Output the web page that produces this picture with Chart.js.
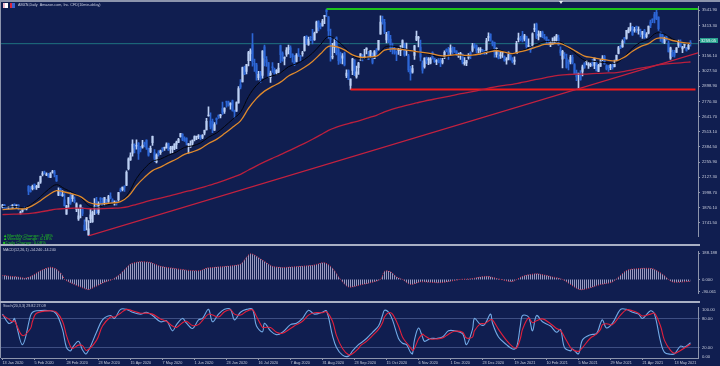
<!DOCTYPE html>
<html>
<head>
<meta charset="utf-8">
<script src="https://cdn.jsdelivr.net/npm/chart.js@4.4.1/dist/chart.umd.min.js"></script>
<style>
  body { margin: 0; background: #101e50; }
  #wrap { position: relative; width: 720px; height: 366px; background: #101e50; overflow: hidden; }
  canvas { position: absolute; left: 0; }
  .bar { position: absolute; background: #8c94ac; }
  .s { position: absolute; transform: scale(0.5); transform-origin: 0 0; white-space: nowrap;
       font-family: 'Liberation Sans', 'DejaVu Sans', sans-serif; color: #c9cde0; line-height: 1; }
  .g { color: #22c322; }
</style>
</head>
<body>
<div id="wrap">
  <canvas id="main" style="top:2px" width="720" height="242"></canvas>
  <canvas id="macd" style="top:247px" width="720" height="54"></canvas>
  <canvas id="stoch" style="top:303px" width="720" height="63"></canvas>

  <div class="bar" style="left:0;top:0;width:720px;height:2px"></div>
  <div class="bar" style="left:0;top:0;width:1px;height:358px"></div>
  <div class="bar" style="left:0;top:244px;width:700px;height:2px;background:#a9b0c4"></div>
  <div class="bar" style="left:0;top:301px;width:700px;height:2px;background:#a9b0c4"></div>
  <div style="position:absolute;left:559px;top:1px;width:0;height:0;border-left:2px solid transparent;border-right:2px solid transparent;border-top:3px solid #e8ecf4"></div>

  <div style="position:absolute;left:3px;top:3px;width:5px;height:5px;background:linear-gradient(90deg,#f2b8cc 50%,#ffffff 50%)"></div>
  <div style="position:absolute;left:10px;top:3px;width:5px;height:5px;background:linear-gradient(90deg,#d8283c 50%,#3a5fd0 50%)"></div>
  <div class="s" style="left:18px;top:3px;font-size:7.4px">AMZN,Daily&nbsp;&nbsp;Amazon.com, Inc. CFD(10min-delay)</div>

  <div class="s g" style="left:3px;top:232.6px;font-size:8.6px">&#9650;Monthly Change: 1.48%</div>
  <div class="s g" style="left:3px;top:236.4px;font-size:8.6px">&#9650;Weekly Change: 0.18%</div>
  <div class="s g" style="left:3px;top:240.2px;font-size:8.6px">&#9632;Daily Change: 0.08%</div>

  <div class="s" style="left:3px;top:248px;font-size:7.4px">MACD(12,26,1) -14.240 -14.240</div>
  <div class="s" style="left:3px;top:304px;font-size:7.4px">Stoch(20,3,3) 29.82 27.09</div>

  <div style="position:absolute;left:700px;top:37.5px;width:18px;height:5.5px;background:#27a08e"></div>
  <div class="s" style="left:701px;top:38px;font-size:8.4px;color:#eafff9">3259.05</div>
</div>

<script>
// x axis labels, one every 16 trading days starting 13 Jan 2020
const dateLabels = ['13 Jan 2020', '5 Feb 2020', '28 Feb 2020', '23 Mar 2020', '15 Apr 2020', '7 May 2020',
  '1 Jun 2020', '23 Jun 2020', '16 Jul 2020', '7 Aug 2020', '31 Aug 2020', '23 Sep 2020', '15 Oct 2020',
  '6 Nov 2020', '1 Dec 2020', '23 Dec 2020', '19 Jan 2021', '10 Feb 2021', '5 Mar 2021', '29 Mar 2021',
  '21 Apr 2021', '13 May 2021'];

const priceTicks = [1741.5, 1870.1, 1998.7, 2127.3, 2255.9, 2384.5, 2513.1, 2641.7, 2770.3, 2898.9,
  3027.5, 3156.1, 3284.7, 3413.3, 3541.9];
const macdTicks = [188.188, 0, -90.061];
const stochTicks = [100, 80, 20, 0];

// daily candles, 13 Jan 2020 .. 25 May 2021
const opens = [
  1875,1890,1870,1865,1875,1865,1896,1885,1891,1820,1840,1865,1859,2051,2010,2030,
  2070,2041,2040,2085,2150,2162,2145,2155,2125,2167,2173,2143,1975,2027,1970,1936,
  1815,1906,1963,1946,1934,1855,1773,1870,1857,1722,1755,1641,1775,1750,1860,1926,
  1827,1951,1921,1902,1930,1922,1964,1933,1901,1912,1937,2018,2022,2045,2060,2200,
  2274,2331,2404,2390,2417,2370,2381,2417,2443,2372,2341,2420,2337,2256,2341,2336,
  2374,2373,2376,2412,2367,2363,2373,2405,2423,2470,2490,2455,2459,2404,2384,2416,
  2448,2468,2468,2477,2465,2500,2529,2646,2603,2600,2526,2623,2647,2647,2710,2684,
  2765,2765,2740,2775,2690,2686,2757,2912,2935,3058,3023,3115,3175,3251,3089,3080,
  2971,3009,2989,3232,3125,3098,2970,3063,3043,3014,3014,3244,3180,3135,3168,3209,
  3224,3170,3114,3108,3172,3151,3173,3200,3323,3252,3295,3310,3294,3352,3450,3410,
  3409,3490,3547,3486,3318,3144,3226,3308,3208,3172,3136,3179,2985,3031,2906,3033,
  3120,2977,3055,3149,3163,3141,3208,3153,3145,3166,3135,3205,3210,3339,3468,3441,
  3292,3363,3299,3222,3212,3189,3202,3199,3225,3250,3201,3157,3042,3018,3160,3290,
  3305,3231,3095,3062,3143,3122,3094,3184,3134,3106,3117,3117,3101,3142,3211,3209,
  3188,3229,3205,3198,3156,3158,3167,3089,3097,3143,3181,3203,3250,3243,3206,3202,
  3205,3193,3194,3309,3341,3275,3270,3167,3146,3156,3181,3148,3120,3128,3167,3124,
  3108,3175,3293,3304,3329,3297,3320,3235,3230,3243,3380,3425,3330,3320,3358,3315,
  3314,3292,3250,3254,3263,3282,3308,3208,3128,3166,3138,3095,3104,3144,3082,3013,
  2994,2992,3023,3093,3109,3075,3075,3105,3074,3097,3023,3067,3128,3152,3072,3073,
  3055,3088,3065,3118,3177,3227,3233,3310,3304,3355,3380,3405,3371,3402,3371,3345,
  3337,3371,3319,3349,3442,3460,3505,3525,3484,3357,3338,3270,3319,3265,3136,3185,
  3185,3186,3245,3273,3215,3247,3222,3216,3269];
const highs = [
  1898,1898,1878,1880,1886,1895,1902,1890,1895,1841,1858,1875,1872,2056,2048,2060,
  2070,2058,2086,2136,2175,2180,2164,2160,2166,2185,2185,2144,2038,2034,2013,1988,
  1889,1955,1997,1978,1960,1910,1862,1893,1871,1765,1786,1759,1858,1841,1946,1957,
  1919,1955,1950,1956,1940,1973,1994,1945,1928,1928,2000,2036,2044,2054,2181,2292,
  2333,2444,2410,2445,2421,2390,2440,2425,2444,2374,2391,2475,2362,2325,2352,2357,
  2376,2383,2419,2417,2390,2392,2410,2433,2456,2500,2497,2469,2462,2413,2436,2442,
  2477,2474,2488,2484,2488,2526,2627,2723,2672,2621,2590,2630,2656,2660,2765,2715,
  2768,2772,2757,2782,2696,2767,2895,2955,3060,3069,3084,3194,3216,3344,3128,3093,
  3025,3024,3201,3248,3150,3099,3026,3098,3052,3039,3093,3247,3191,3147,3225,3247,
  3240,3172,3159,3175,3217,3158,3194,3321,3326,3314,3322,3380,3357,3451,3452,3433,
  3465,3500,3552,3489,3382,3261,3300,3317,3229,3188,3175,3188,3037,3037,2962,3134,
  3124,3069,3101,3175,3167,3212,3224,3195,3202,3182,3201,3218,3288,3496,3492,3465,
  3355,3363,3329,3265,3233,3199,3223,3244,3292,3265,3265,3168,3067,3076,3245,3366,
  3322,3289,3114,3140,3145,3142,3142,3190,3137,3125,3133,3139,3134,3198,3216,3228,
  3249,3233,3229,3198,3180,3185,3174,3142,3119,3175,3189,3263,3263,3250,3227,3225,
  3211,3202,3304,3350,3342,3283,3273,3224,3198,3190,3190,3156,3142,3190,3178,3142,
  3148,3279,3349,3321,3364,3338,3324,3301,3236,3350,3427,3434,3367,3364,3366,3338,
  3317,3292,3280,3308,3320,3338,3333,3233,3202,3184,3171,3123,3161,3162,3091,3035,
  3010,3031,3078,3099,3117,3099,3094,3127,3138,3109,3083,3126,3159,3161,3080,3074,
  3084,3092,3120,3162,3236,3247,3292,3310,3372,3395,3433,3405,3398,3406,3401,3382,
  3363,3381,3354,3409,3460,3470,3525,3554,3486,3358,3343,3315,3330,3284,3231,3205,
  3203,3227,3290,3291,3237,3256,3228,3258,3285];
const lows = [
  1866,1865,1855,1858,1863,1860,1883,1872,1850,1815,1830,1850,1850,1980,2000,2020,
  2025,2024,2039,2075,2139,2152,2141,2125,2124,2162,2130,2092,1970,1970,1965,1883,
  1811,1872,1897,1922,1910,1835,1761,1782,1801,1675,1680,1626,1741,1745,1810,1820,
  1812,1900,1885,1889,1899,1913,1944,1906,1890,1891,1925,2002,2011,2007,2056,2189,
  2270,2305,2333,2366,2278,2342,2374,2385,2363,2306,2335,2396,2259,2248,2306,2320,
  2343,2355,2373,2355,2332,2335,2361,2370,2420,2466,2438,2430,2402,2332,2379,2399,
  2434,2445,2455,2446,2455,2485,2529,2645,2536,2504,2524,2576,2625,2630,2660,2669,
  2722,2730,2703,2688,2630,2685,2754,2876,2935,2996,3002,3070,3115,3068,3024,2950,
  2952,2930,2966,3070,3066,2970,2930,3016,2999,2996,3005,3098,3110,3080,3152,3172,
  3140,3102,3073,3104,3152,3110,3153,3196,3252,3244,3284,3258,3287,3351,3368,3385,
  3407,3428,3487,3303,3111,3130,3183,3163,3083,3092,3087,3071,2970,2953,2871,2997,
  2987,2966,2998,3117,3112,3133,3172,3123,3141,3087,3132,3169,3205,3340,3424,3343,
  3265,3267,3192,3172,3170,3115,3168,3157,3212,3153,3160,3019,2950,3009,3125,3284,
  3232,3112,3010,3052,3089,3082,3087,3128,3100,3081,3097,3065,3087,3133,3190,3126,
  3158,3173,3186,3158,3142,3126,3087,3077,3072,3128,3132,3190,3221,3181,3166,3171,
  3170,3169,3172,3282,3280,3241,3144,3145,3130,3134,3142,3110,3086,3122,3120,3095,
  3084,3175,3275,3283,3275,3282,3218,3234,3185,3231,3361,3301,3291,3317,3311,3297,
  3254,3248,3233,3254,3259,3273,3245,3160,3054,3134,3052,3036,3087,3088,2999,2945,
  2881,2950,2986,3050,3078,3050,3064,3068,3047,3028,3022,3066,3115,3085,3036,3023,
  3038,3042,3063,3115,3173,3217,3228,3264,3298,3350,3366,3330,3357,3355,3339,3316,
  3304,3303,3308,3342,3394,3438,3436,3462,3372,3279,3266,3260,3289,3190,3125,3151,
  3145,3186,3227,3232,3182,3224,3195,3210,3238];
const closes = [
  1891,1869,1862,1878,1865,1892,1888,1885,1862,1828,1853,1858,1871,2009,2004,2050,
  2040,2050,2079,2134,2151,2160,2150,2135,2156,2170,2153,2096,2009,1973,1980,1884,
  1884,1954,1909,1976,1924,1901,1801,1892,1821,1677,1785,1689,1808,1830,1881,1846,
  1903,1940,1886,1955,1900,1964,1950,1908,1919,1907,1998,2012,2043,2043,2169,2283,
  2308,2408,2375,2394,2328,2363,2399,2410,2376,2314,2373,2474,2286,2316,2318,2351,
  2368,2380,2409,2357,2368,2389,2410,2426,2449,2498,2447,2437,2422,2410,2401,2442,
  2471,2472,2478,2461,2483,2524,2601,2647,2558,2545,2573,2615,2641,2654,2675,2714,
  2764,2734,2755,2693,2680,2759,2879,2890,3057,3000,3081,3183,3200,3104,3084,3009,
  3000,2962,3197,3138,3100,2987,3009,3055,3000,3034,3052,3165,3112,3139,3205,3225,
  3167,3148,3081,3162,3161,3148,3182,3312,3260,3297,3285,3307,3346,3442,3400,3402,
  3451,3499,3531,3368,3295,3150,3269,3175,3116,3103,3156,3078,3009,2955,2960,3129,
  3000,3020,3095,3174,3145,3149,3221,3125,3199,3100,3196,3191,3287,3443,3444,3364,
  3339,3273,3207,3217,3185,3176,3204,3207,3286,3163,3211,3036,3004,3048,3241,3322,
  3311,3144,3035,3137,3110,3129,3131,3136,3105,3117,3099,3098,3118,3185,3195,3168,
  3220,3204,3187,3163,3158,3177,3104,3101,3116,3157,3165,3241,3236,3202,3206,3207,
  3185,3173,3284,3322,3286,3257,3187,3219,3138,3162,3183,3114,3121,3166,3127,3104,
  3121,3263,3307,3292,3294,3326,3233,3238,3206,3343,3380,3313,3331,3352,3323,3305,
  3287,3262,3278,3269,3309,3328,3250,3181,3195,3160,3057,3093,3146,3095,3005,2978,
  3000,2952,3063,3058,3114,3089,3082,3092,3136,3028,3075,3111,3138,3087,3046,3052,
  3076,3055,3094,3161,3227,3224,3279,3299,3372,3379,3400,3333,3379,3399,3372,3335,
  3362,3309,3341,3409,3417,3459,3471,3467,3386,3312,3271,3306,3292,3190,3224,3152,
  3161,3223,3270,3232,3232,3248,3203,3245,3259];

// moving averages: at bar 0, then every 4th bar (3, 7, ... 343), then the last bar
const maIdx = [0];
for (let b = 0; b < 86; b++) maIdx.push(4 * b + 3);
maIdx.push(344);
const fastMa = [1880,1875,1878,1868,1906,1962,2024,2064,2030,1997,1958,1887,1872,1888,1902,1921,1991,2117,
  2202,2262,2281,2313,2341,2380,2393,2418,2466,2502,2557,2617,2678,2811,2906,2961,2987,3012,3064,3089,3126,
  3179,3251,3321,3288,3230,3159,3130,3140,3150,3228,3238,3223,3207,3189,3179,3162,3143,3151,3165,3155,3160,
  3178,3199,3211,3191,3171,3195,3221,3251,3276,3275,3273,3224,3169,3119,3111,3103,3096,3096,3149,3222,3271,
  3299,3350,3340,3299,3273,3260,3259];
const midMa = [1852,1856,1861,1859,1886,1928,1977,2013,2002,1986,1963,1915,1898,1903,1909,1920,1967,2056,
  2126,2183,2213,2249,2282,2321,2342,2370,2413,2448,2497,2550,2605,2710,2795,2857,2897,2933,2985,3019,3059,
  3109,3173,3236,3233,3207,3164,3144,3147,3153,3204,3216,3211,3203,3192,3184,3172,3157,3159,3167,3160,3162,
  3173,3188,3199,3188,3175,3191,3209,3231,3253,3257,3259,3230,3192,3154,3141,3129,3118,3114,3145,3195,3234,
  3260,3303,3306,3286,3272,3263,3262];
const slowMa = [1810,1813,1815,1817,1823,1833,1845,1857,1861,1864,1865,1860,1859,1861,1864,1868,1878,1898,
  1916,1935,1950,1966,1983,2002,2018,2036,2057,2077,2100,2125,2152,2188,2224,2257,2288,2318,2351,2382,2414,
  2449,2486,2524,2551,2573,2591,2610,2631,2652,2681,2704,2723,2741,2757,2773,2786,2799,2813,2828,2840,2853,
  2867,2882,2896,2906,2915,2928,2941,2956,2970,2982,2993,2998,3001,3001,3005,3008,3011,3014,3024,3038,3051,
  3063,3078,3087,3092,3097,3103,3104];

// drawn levels
const resistance = 3552, support = 2871, bidPrice = 3259.05;
const trendIdx = [43, 347.75], trendPrice = [1630, 3182];

// MACD(12,26,1) histogram outline
const macdIdx = [0,4,9,11,14,19,24,27,30,31,35,39,43,46,51,55,59,64,69,74,79,85,94,99,102,112,119,124,130,
  135,140,149,155,161,165,169,173,179,189,191,194,197,200,204,209,219,229,234,242,249,255,260,267,275,280,
  289,299,305,312,317,325,330,335,344];
const macdVal = [29,22,15,8,20,62,88,73,30,0,-30,-55,-74,-55,-20,0,40,110,127,122,94,81,64,64,81,94,110,185,
  138,94,86,94,101,120,81,0,-55,-40,0,59,55,18,0,-37,-18,-24,0,4,22,0,-15,22,40,18,0,-74,-37,-18,64,77,77,
  37,-18,-14];

// Stochastic(20,3,3)
const stochIdx = [0,3,5,6,10,14,15,17,24,27,30,32,34,35,38,40,42,47,50,54,56,59,62,65,69,72,75,79,82,85,87,
  90,92,95,98,100,103,105,108,111,114,116,119,122,125,127,130,131,134,137,140,144,147,150,153,156,160,162,
  165,167,170,173,175,178,179,182,185,188,190,191,193,195,198,200,202,204,205,206,208,210,211,214,217,220,
  223,226,230,232,235,236,239,241,244,245,248,252,255,257,259,260,263,265,267,270,274,277,279,281,284,285,
  288,290,294,297,299,300,302,305,309,312,315,318,320,324,326,329,331,334,336,339,341,344];
const stochK = [90,71,74,81,26,87,94,97,97,90,58,20,13,20,33,15,7,52,78,87,81,100,100,94,90,94,87,74,76,55,
  68,81,71,60,78,81,100,74,90,100,100,78,94,100,100,65,53,71,55,47,52,68,71,81,98,90,94,97,45,20,4,2,13,26,
  29,39,52,65,87,98,94,78,39,29,26,10,7,36,61,42,33,39,39,42,55,55,49,26,58,81,68,68,90,71,42,26,17,20,68,
  87,84,55,87,74,65,52,58,20,13,17,7,36,47,49,71,78,61,71,100,100,94,90,81,97,90,33,10,6,7,23,21,30];
const stochD = [88,80,74,76,45,60,75,92,97,94,75,45,22,18,25,24,14,35,65,84,84,92,100,97,92,92,90,80,75,65,
  62,72,75,66,68,77,90,88,84,95,99,90,88,96,99,85,62,62,62,52,50,60,68,75,88,93,93,95,75,45,18,5,7,18,24,
  33,45,58,72,84,93,90,65,42,30,20,14,18,38,48,45,38,38,40,48,54,52,40,42,55,70,70,78,78,58,35,22,19,40,58,
  82,72,76,80,70,60,56,42,20,16,12,20,40,48,58,68,70,68,88,99,97,92,86,90,92,65,35,14,8,14,19,27];

// ---------------------------------------------------------------
Chart.defaults.animation = false;
Chart.defaults.responsive = false;
Chart.defaults.devicePixelRatio = 1;
Chart.defaults.events = [];
Chart.defaults.plugins.legend.display = false;
Chart.defaults.plugins.tooltip.enabled = false;
Chart.defaults.font.family = "'Liberation Sans', 'DejaVu Sans', sans-serif";

const X_MIN = -0.75, X_MAX = 347.75;
const axisCol = '#8c94ac', txtCol = '#c6cbdb';
const upCol = '#bed1f5', dnCol = '#2d66d6';
const candleCols = closes.map((c, i) => c >= opens[i] ? upCol : dnCol);

const pts = (xs, ys) => xs.map((x, i) => ({ x: x, y: ys[i] }));

function xAxis(show) {
  return {
    type: 'linear', min: X_MIN, max: X_MAX, offset: false, display: show,
    afterFit(s) { s.height = 8; },
    afterBuildTicks(s) { s.ticks = dateLabels.map((d, i) => ({ value: i * 16 })); },
    ticks: { color: txtCol, font: { size: 3.8 }, align: 'start', maxRotation: 0, autoSkip: false, padding: 1,
      callback: v => dateLabels[Math.round(v / 16)] },
    grid: { offset: false, drawOnChartArea: false, tickLength: 2, color: axisCol },
    border: { color: axisCol }
  };
}

function yAxis(min, max, ticks, fmt, levels) {
  return {
    position: 'right', min: min, max: max,
    afterFit(s) { s.width = 22; },
    afterBuildTicks(s) { s.ticks = ticks.map(v => ({ value: v })); },
    ticks: { color: txtCol, font: { size: 4.2 }, padding: 2, autoSkip: false, callback: fmt },
    grid: {
      drawOnChartArea: !!levels, tickLength: 2,
      color: c => levels ? (levels.includes(c.tick.value) ? 'rgba(120,138,190,0.45)' : 'rgba(0,0,0,0)') : axisCol
    },
    border: { color: axisCol }
  };
}

const lineDs = (data, color, width, extra) => Object.assign({
  type: 'line', data: data, borderColor: color, borderWidth: width, pointRadius: 0,
  tension: 0.35, fill: false, order: 1
}, extra || {});

// main price panel
new Chart(document.getElementById('main'), {
  type: 'bar',
  data: {
    datasets: [
      lineDs([{ x: X_MIN, y: bidPrice }, { x: X_MAX, y: bidPrice }], '#1f7380', 1, { order: 9, tension: 0 }),
      { label: 'wick', data: closes.map((c, i) => ({ x: i, y: [lows[i], highs[i]] })),
        backgroundColor: candleCols, barThickness: 1, grouped: false, order: 8 },
      { label: 'body', data: closes.map((c, i) => ({ x: i, y: [opens[i], c] })),
        backgroundColor: candleCols, barThickness: 1.3, minBarLength: 1, grouped: false, order: 7 },
      lineDs(pts(maIdx, slowMa), '#bb1f3d', 1.3),
      lineDs(pts(trendIdx, trendPrice), '#c4213f', 1.2, { tension: 0 }),
      lineDs(pts(maIdx, midMa), '#e08a2c', 1.3),
      lineDs(pts(maIdx, fastMa), '#04050c', 1),
      lineDs([{ x: 162, y: resistance }, { x: X_MAX, y: resistance }], '#1cc41c', 2, { tension: 0 }),
      lineDs([{ x: 174, y: support }, { x: 346.5, y: support }], '#f21b1b', 2, { tension: 0 })
    ]
  },
  options: {
    layout: { padding: { left: 1, top: 0, bottom: 0, right: 0 } },
    scales: {
      x: xAxis(false),
      y: yAxis(1628.98, 3574.05, priceTicks, v => v.toFixed(2))
    }
  }
});

// MACD panel
const macdCanvas = document.getElementById('macd');
const stripe = document.createElement('canvas');
stripe.width = 2; stripe.height = 1;
const sctx = stripe.getContext('2d');
sctx.fillStyle = 'rgba(176,176,210,0.85)';
sctx.fillRect(0, 0, 1, 1);
const stripes = macdCanvas.getContext('2d').createPattern(stripe, 'repeat');

new Chart(macdCanvas, {
  type: 'line',
  data: {
    datasets: [
      { data: pts(macdIdx, macdVal), borderColor: '#d8304a', borderWidth: 1, borderDash: [1, 1.5],
        backgroundColor: stripes, fill: 'origin', pointRadius: 0, tension: 0.25 }
    ]
  },
  options: {
    layout: { padding: { left: 1, top: 0, bottom: 0, right: 0 } },
    scales: {
      x: xAxis(false),
      y: yAxis(-97.9, 200.7, macdTicks, v => v.toFixed(3))
    }
  }
});

// Stochastic panel
new Chart(document.getElementById('stoch'), {
  type: 'line',
  data: {
    datasets: [
      { data: pts(stochIdx, stochK), borderColor: '#72aae6', borderWidth: 1.1, pointRadius: 0, tension: 0.35, order: 2 },
      { data: pts(stochIdx, stochD), borderColor: '#e2203c', borderWidth: 1.1, pointRadius: 0, tension: 0.35, order: 1 }
    ]
  },
  options: {
    layout: { padding: { left: 1, top: 0, bottom: 0, right: 0 } },
    scales: {
      x: xAxis(true),
      y: yAxis(-1.92, 103.85, stochTicks, v => v.toFixed(2), [80, 20])
    }
  }
});
</script>
</body>
</html>
